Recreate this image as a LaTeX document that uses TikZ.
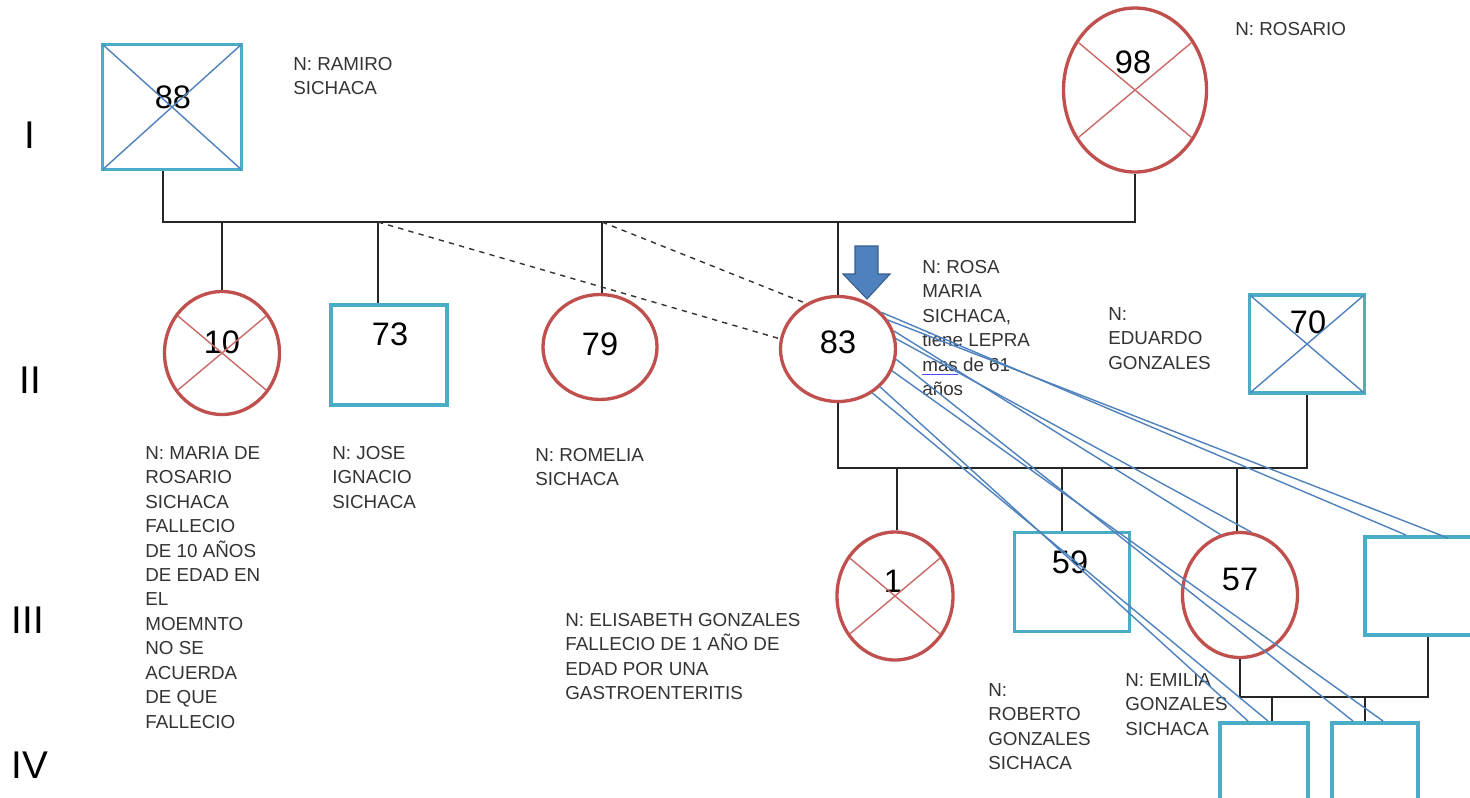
\documentclass[tikz,border=0pt]{standalone}
\usepackage{fontspec}
\setmainfont{Liberation Sans}
\usetikzlibrary{shapes,arrows,calc}

\definecolor{sqblue}{HTML}{4BACC6}
\definecolor{cired}{HTML}{C0504D}
\definecolor{lnblue}{HTML}{4F81BD}
\definecolor{arrline}{HTML}{385D8A}
\newcommand{\spellmark}[1]{\rlap{\color{blue!70}\rule[-2.2pt]{\widthof{#1}}{0.7pt}}#1}
\usepackage{calc}

\begin{document}
\begin{tikzpicture}[x=0.2mm, y=-0.2mm]
    % Define block styles
    \tikzstyle{male} = [rectangle, draw=sqblue, line width=2.2pt, inner sep=0pt]
    \tikzstyle{female} = [ellipse, draw=cired, line width=1.9pt, inner sep=0pt]
    \tikzstyle{num} = [font=\fontsize{18.5}{18.5}\selectfont, inner sep=0pt]
    \tikzstyle{gen} = [font=\fontsize{22}{22}\selectfont, inner sep=0pt]
    \tikzstyle{note} = [font=\fontsize{10.7}{13.9}\selectfont, text=black!80,
        align=left, anchor=north west, inner sep=0pt]
    \tikzstyle{line} = [draw, black!85, line width=1.1pt]
    \tikzstyle{link} = [draw, black!80, dashed, line width=0.8pt]
    \tikzstyle{stray} = [draw=lnblue, line width=0.8pt]
    \tikzstyle{dead} = [line width=0.8pt, shorten <=2pt, shorten >=2pt]

    \useasboundingbox (0,0) rectangle (1470,797);

    % Generations
    \node [gen] (g1) at (30,135) {I};
    \node [gen] (g2) at (30,380) {II};
    \node [gen] (g3) at (28,620) {III};
    \node [gen] (g4) at (30,765) {IV};

    % Generation I
    \node [male, minimum width=27.8mm, minimum height=25mm] (p88) at (172,107) {};
    \node [female, minimum width=28.6mm, minimum height=32.8mm] (p98) at (1135,90) {};
    \node [note] (t88) at (293,57) {N: RAMIRO\\SICHACA};
    \node [note] (t98) at (1235,22) {N: ROSARIO};

    % Generation II
    \node [female, minimum width=23mm, minimum height=24.6mm] (p10) at (222,353) {};
    \node [male, minimum width=23.2mm, minimum height=20mm] (p73) at (389,355) {};
    \node [female, minimum width=22.8mm, minimum height=21mm] (p79) at (600,347) {};
    \node [female, minimum width=23mm, minimum height=21mm] (p83) at (838,349) {};
    \node [male, minimum width=23mm, minimum height=19.6mm] (p70) at (1307,344) {};
    \node [note] (t10) at (145,446) {N: MARIA DE\\ROSARIO\\SICHACA\\FALLECIO\\DE 10 AÑOS\\DE EDAD EN\\EL\\MOEMNTO\\NO SE\\ACUERDA\\DE QUE\\FALLECIO};
    \node [note] (t73) at (332,446) {N: JOSE\\IGNACIO\\SICHACA};
    \node [note] (t79) at (535,448) {N: ROMELIA\\SICHACA};
    \node [note] (t83) at (922,260) {N: ROSA\\MARIA\\SICHACA,\\tiene LEPRA\\\spellmark{mas} de 61\\años};
    \node [note] (t70) at (1108,307) {N:\\EDUARDO\\GONZALES};

    % Generation III
    \node [female, minimum width=23.2mm, minimum height=25.6mm] (p1) at (895,596) {};
    \node [male, minimum width=23mm, minimum height=19.8mm] (p59) at (1072,582) {};
    \node [female, minimum width=23mm, minimum height=25mm] (p57) at (1240,595) {};
    \node [male, minimum width=25.2mm, minimum height=19.6mm] (p3r) at (1428,586) {};
    \node [note] (t1) at (565,613) {N: ELISABETH GONZALES\\FALLECIO DE 1 AÑO DE\\EDAD POR UNA\\GASTROENTERITIS};
    \node [note] (t59) at (988,683) {N:\\ROBERTO\\GONZALES\\SICHACA};
    \node [note] (t57) at (1125,673) {N: EMILIA\\GONZALES\\SICHACA};

    % Generation IV
    \node [male, minimum width=17.6mm, minimum height=18.4mm] (p4a) at (1264,769) {};
    \node [male, minimum width=17.2mm, minimum height=18.4mm] (p4b) at (1375,769) {};

    % Ages
    \node [num] (n88) at (173,97) {88};
    \node [num] (n98) at (1133,62) {98};
    \node [num] (n10) at (222,342) {10};
    \node [num] (n73) at (390,334) {73};
    \node [num] (n79) at (600,344) {79};
    \node [num] (n83) at (838,342) {83};
    \node [num] (n70) at (1308,322) {70};
    \node [num] (n1) at (893,581) {1};
    \node [num] (n59) at (1070,562) {59};
    \node [num] (n57) at (1240,579) {57};

    % Deceased
    \foreach \p in {p88,p70} {
        \draw [lnblue, dead] (\p.north west) -- (\p.south east);
        \draw [lnblue, dead] (\p.north east) -- (\p.south west);
    }
    \foreach \p in {p98,p10,p1} {
        \draw [cired!85, dead] (\p.140) -- (\p.-40);
        \draw [cired!85, dead] (\p.40) -- (\p.-140);
    }

    % Couples and children
    \coordinate (m1) at (650,222);
    \coordinate (d10) at (222,222);
    \coordinate (d73) at (378,222);
    \coordinate (d79) at (602,222);
    \coordinate (d83) at (838,222);
    \path [line] ($(p88.south)+(-9,0)$) |- (m1) -| (p98.south);
    \path [line] (d10) -- (d10 |- p10.north);
    \path [line] (d73) -- (d73 |- p73.north);
    \path [line] (d79) -- (d79 |- p79.north);
    \path [line] (d83) -- (d83 |- p83.north);

    \coordinate (m2) at (1000,468);
    \coordinate (c1) at (897,468);
    \coordinate (c59) at (1062,468);
    \coordinate (c57) at (1237,468);
    \path [line] (p83.south) |- (m2) -| (p70.south);
    \path [line] (c1) -- (c1 |- p1.north);
    \path [line] (c59) -- (c59 |- p59.north);
    \path [line] (c57) -- (c57 |- p57.north);

    \coordinate (m3) at (1330,697);
    \coordinate (e1) at (1272,697);
    \coordinate (e2) at (1365,697);
    \path [line] (p57.south) |- (m3) -| (p3r.south);
    \path [line] (e1) -- (e1 |- p4a.north);
    \path [line] (e2) -- (e2 |- p4b.north);

    % Dashed links
    \path [link] (d73) -- (p83.170);
    \path [link] (d79) -- (p83.125);

    % Index arrow
    \filldraw [fill=lnblue, draw=arrline, line width=0.6pt]
        (855,246) -- (878,246) -- (878,274) -- (890,274) -- (867,299)
        -- (843,274) -- (855,274) -- cycle;

    % Stray lines
    \path [stray] (p83.40) -- ($(p3r.north west)+(43,0)$);
    \path [stray] (p83.30) -- ($(p3r.north west)+(85,3)$);
    \path [stray] (p83.18) -- (p57.108);
    \path [stray] (p83.10) -- (p57.80);
    \path [stray] (p83.-10) -- ($(p4b.north west)+(23,0)$);
    \path [stray] (p83.-22) -- ($(p4b.north west)+(53,0)$);
    \path [stray] (p83.-42) -- ($(p4a.north west)+(30,0)$);
    \path [stray] (p83.-52) -- ($(p4a.north west)+(50,0)$);

\end{tikzpicture}
\end{document}
